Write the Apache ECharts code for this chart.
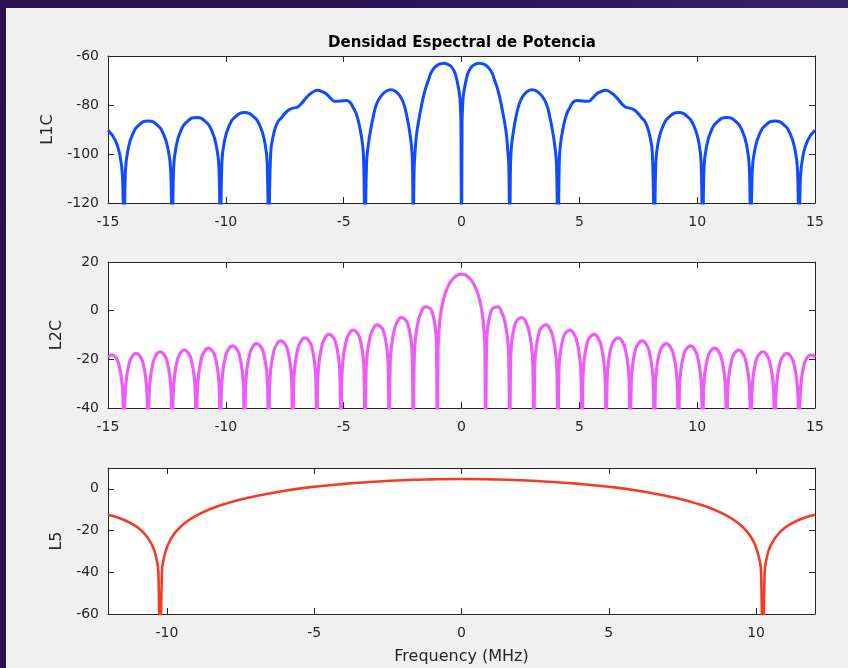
<!DOCTYPE html>
<html><head><meta charset="utf-8">
<script src="https://cdn.jsdelivr.net/npm/echarts@6/dist/echarts.min.js"></script>
<style>
html,body{margin:0;padding:0;width:848px;height:668px;overflow:hidden;}
body{background:linear-gradient(100deg,#2c0f4e 0%,#2b1658 55%,#372a6e 100%);position:relative;}
#panel{position:absolute;left:6px;top:8px;width:842px;height:660px;background:#f0f0f0;}
#chart{position:absolute;left:0;top:0;width:848px;height:668px;}
</style></head><body><div id="panel"></div><div id="chart"></div>
<script>
// ---- data ----
const titleText = 'Densidad Espectral de Potencia';
const yNames = ['L1C', 'L2C', 'L5'];
const xName = 'Frequency (MHz)';
const xTicks12 = [-15, -10, -5, 0, 5, 10, 15];
const xTicks3 = [-10, -5, 0, 5, 10];
const yTicks1 = [-120, -100, -80, -60];
const yTicks2 = [-40, -20, 0, 20];
const yTicks3 = [-60, -40, -20, 0];

const l1cData = [
  [-15,-90.4],[-14.69,-94.4],[-14.486,-101],[-14.383,-109.5],[-14.322,-140],
  [-14.261,-107],[-14.158,-98.6],[-13.954,-91.9],[-13.667,-88],[-13.299,-86.5],[-12.931,-88],[-12.644,-91.9],[-12.44,-98.6],[-12.337,-107],[-12.276,-140],
  [-12.215,-105.6],[-12.112,-97.2],[-11.908,-90.5],[-11.621,-86.6],[-11.253,-85.1],[-10.885,-86.6],[-10.598,-90.5],[-10.394,-97.2],[-10.291,-105.6],[-10.23,-140],
  [-10.169,-103.6],[-10.066,-95.2],[-9.862,-88.5],[-9.575,-84.6],[-9.207,-83.1],[-8.839,-84.6],[-8.552,-88.5],[-8.348,-95.2],[-8.245,-103.6],[-8.184,-140],
  [-8.1,-100],[-7.95,-91],[-7.8,-87],[-7.64,-85.2],[-7.45,-83],[-7.29,-81.8],[-7.1,-81.2],[-6.95,-80.8],[-6.8,-79.5],[-6.6,-77.2],[-6.35,-75],[-6.1,-74],[-5.9,-74.6],[-5.73,-75.5],[-5.55,-77.3],[-5.38,-78.5],[-5.15,-78.4],[-4.9,-78.2],[-4.74,-78.8],[-4.6,-81],[-4.46,-83.8],[-4.32,-89],[-4.2,-96],[-4.15,-103],[-4.092,-140],
  [-4.03,-104],[-3.95,-96],[-3.87,-91],[-3.75,-85],[-3.6,-79.5],[-3.4,-76.2],[-3.2,-74.4],[-3.0,-73.8],[-2.8,-74.4],[-2.6,-76.5],[-2.45,-79.5],[-2.3,-85.5],[-2.2,-91],[-2.12,-97],[-2.08,-104],[-2.046,-140],
  [-2.01,-106],[-1.96,-98],[-1.9,-91.5],[-1.8,-85.5],[-1.7,-80.5],[-1.6,-76],[-1.5,-72.5],[-1.4,-69.8],[-1.3,-67],[-1.15,-64.8],[-1.0,-63.6],[-0.85,-63.1],[-0.75,-63],[-0.6,-63.3],[-0.45,-64.2],[-0.32,-66],[-0.22,-68.8],[-0.14,-72.5],[-0.08,-76],[-0.05,-80],[-0.025,-87],[0,-140],
  [0.025,-87],[0.05,-80],[0.08,-76],[0.14,-72.5],[0.22,-68.8],[0.32,-66],[0.45,-64.2],[0.6,-63.3],[0.75,-63],[0.85,-63.1],[1.0,-63.6],[1.15,-64.8],[1.3,-67],[1.4,-69.8],[1.5,-72.5],[1.6,-76],[1.7,-80.5],[1.8,-85.5],[1.9,-91.5],[1.96,-98],[2.01,-106],[2.046,-140],
  [2.08,-104],[2.12,-97],[2.2,-91],[2.3,-85.5],[2.45,-79.5],[2.6,-76.5],[2.8,-74.4],[3.0,-73.8],[3.2,-74.4],[3.4,-76.2],[3.6,-79.5],[3.75,-85],[3.87,-91],[3.95,-96],[4.03,-104],[4.092,-140],
  [4.15,-103],[4.2,-96],[4.32,-89],[4.46,-83.8],[4.6,-81],[4.74,-78.8],[4.9,-78.2],[5.15,-78.4],[5.38,-78.5],[5.55,-77.3],[5.73,-75.5],[5.9,-74.6],[6.1,-74],[6.35,-75],[6.6,-77.2],[6.8,-79.5],[6.95,-80.8],[7.1,-81.2],[7.29,-81.8],[7.45,-83],[7.64,-85.2],[7.8,-87],[7.95,-91],[8.1,-100],[8.184,-140],
  [8.245,-103.6],[8.348,-95.2],[8.552,-88.5],[8.839,-84.6],[9.207,-83.1],[9.575,-84.6],[9.862,-88.5],[10.066,-95.2],[10.169,-103.6],[10.23,-140],
  [10.291,-105.6],[10.394,-97.2],[10.598,-90.5],[10.885,-86.6],[11.253,-85.1],[11.621,-86.6],[11.908,-90.5],[12.112,-97.2],[12.215,-105.6],[12.276,-140],
  [12.337,-107],[12.44,-98.6],[12.644,-91.9],[12.931,-88],[13.299,-86.5],[13.667,-88],[13.954,-91.9],[14.158,-98.6],[14.261,-107],[14.322,-140],
  [14.383,-109.5],[14.486,-101],[14.69,-94.4],[15,-90.4]
];

const l2cData = [
  [-15,-19.2],[-14.834,-18.17],[-14.629,-19.89],[-14.527,-22.61],[-14.424,-28.13],[-14.363,-35.93],[-14.322,-60],
  [-14.281,-35.88],[-14.22,-28.0],[-14.117,-22.36],[-14.015,-19.52],[-13.811,-17.55],[-13.606,-19.26],[-13.504,-21.97],[-13.401,-27.49],[-13.34,-35.29],[-13.299,-60],
  [-13.258,-35.24],[-13.197,-27.35],[-13.094,-21.71],[-12.992,-18.86],[-12.788,-16.88],[-12.583,-18.58],[-12.481,-21.29],[-12.378,-26.8],[-12.317,-34.6],[-12.276,-60],
  [-12.235,-34.54],[-12.174,-26.65],[-12.071,-21.0],[-11.969,-18.15],[-11.765,-16.16],[-11.56,-17.84],[-11.458,-20.55],[-11.355,-26.05],[-11.294,-33.84],[-11.253,-60],
  [-11.212,-33.78],[-11.151,-25.89],[-11.048,-20.23],[-10.946,-17.37],[-10.742,-15.37],[-10.537,-17.04],[-10.435,-19.74],[-10.332,-25.23],[-10.271,-33.02],[-10.23,-60],
  [-10.189,-32.95],[-10.128,-25.06],[-10.025,-19.39],[-9.923,-16.52],[-9.719,-14.5],[-9.514,-16.15],[-9.412,-18.84],[-9.309,-24.32],[-9.248,-32.11],[-9.207,-60],
  [-9.166,-32.03],[-9.105,-24.13],[-9.002,-18.45],[-8.9,-15.57],[-8.696,-13.53],[-8.491,-15.16],[-8.389,-17.84],[-8.286,-23.31],[-8.225,-31.09],[-8.184,-60],
  [-8.143,-31.0],[-8.082,-23.1],[-7.979,-17.4],[-7.877,-14.51],[-7.673,-12.44],[-7.468,-14.05],[-7.366,-16.71],[-7.263,-22.17],[-7.202,-29.93],[-7.161,-60],
  [-7.12,-29.84],[-7.059,-21.92],[-6.956,-16.21],[-6.854,-13.3],[-6.65,-11.2],[-6.445,-12.77],[-6.343,-15.41],[-6.24,-20.85],[-6.179,-28.6],[-6.138,-60],
  [-6.097,-28.49],[-6.036,-20.56],[-5.933,-14.83],[-5.831,-11.9],[-5.627,-9.75],[-5.422,-11.27],[-5.32,-13.88],[-5.217,-19.29],[-5.156,-27.03],[-5.115,-60],
  [-5.074,-26.89],[-5.013,-18.95],[-4.91,-13.19],[-4.808,-10.23],[-4.604,-8.01],[-4.399,-9.45],[-4.297,-12.03],[-4.194,-17.4],[-4.133,-25.11],[-4.092,-60],
  [-4.051,-24.94],[-3.99,-16.96],[-3.887,-11.16],[-3.785,-8.15],[-3.581,-5.82],[-3.376,-7.15],[-3.274,-9.67],[-3.171,-14.97],[-3.11,-22.64],[-3.069,-60],
  [-3.028,-22.41],[-2.967,-14.39],[-2.864,-8.51],[-2.762,-5.41],[-2.558,-2.9],[-2.353,-4.02],[-2.251,-6.41],[-2.148,-11.59],[-2.087,-19.18],[-2.046,-60],
  [-2.005,-18.83],[-1.944,-10.72],[-1.841,-4.67],[-1.739,-1.39],[-1.535,1.54],[-1.33,0.94],[-1.228,-1.15],[-1.125,-5.97],[-1.064,-13.32],[-1.023,-60],
  [-0.995,-16.0],[-0.97,-10.3],[-0.9,-2.5],[-0.8,3.2],[-0.7,6.81],[-0.6,9.4],[-0.5,11.27],[-0.4,12.7],[-0.3,13.73],[-0.2,14.45],[-0.1,14.86],[0,15],
  [0.1,14.86],[0.2,14.45],[0.3,13.73],[0.4,12.7],[0.5,11.27],[0.6,9.4],[0.7,6.81],[0.8,3.2],[0.9,-2.5],[0.97,-10.3],[0.995,-16.0],
  [1.023,-60],[1.064,-13.32],[1.125,-5.97],[1.228,-1.15],[1.33,0.94],[1.535,1.54],[1.739,-1.39],[1.841,-4.67],[1.944,-10.72],[2.005,-18.83],
  [2.046,-60],[2.087,-19.18],[2.148,-11.59],[2.251,-6.41],[2.353,-4.02],[2.558,-2.9],[2.762,-5.41],[2.864,-8.51],[2.967,-14.39],[3.028,-22.41],
  [3.069,-60],[3.11,-22.64],[3.171,-14.97],[3.274,-9.67],[3.376,-7.15],[3.581,-5.82],[3.785,-8.15],[3.887,-11.16],[3.99,-16.96],[4.051,-24.94],
  [4.092,-60],[4.133,-25.11],[4.194,-17.4],[4.297,-12.03],[4.399,-9.45],[4.604,-8.01],[4.808,-10.23],[4.91,-13.19],[5.013,-18.95],[5.074,-26.89],
  [5.115,-60],[5.156,-27.03],[5.217,-19.29],[5.32,-13.88],[5.422,-11.27],[5.627,-9.75],[5.831,-11.9],[5.933,-14.83],[6.036,-20.56],[6.097,-28.49],
  [6.138,-60],[6.179,-28.6],[6.24,-20.85],[6.343,-15.41],[6.445,-12.77],[6.65,-11.2],[6.854,-13.3],[6.956,-16.21],[7.059,-21.92],[7.12,-29.84],
  [7.161,-60],[7.202,-29.93],[7.263,-22.17],[7.366,-16.71],[7.468,-14.05],[7.673,-12.44],[7.877,-14.51],[7.979,-17.4],[8.082,-23.1],[8.143,-31.0],
  [8.184,-60],[8.225,-31.09],[8.286,-23.31],[8.389,-17.84],[8.491,-15.16],[8.696,-13.53],[8.9,-15.57],[9.002,-18.45],[9.105,-24.13],[9.166,-32.03],
  [9.207,-60],[9.248,-32.11],[9.309,-24.32],[9.412,-18.84],[9.514,-16.15],[9.719,-14.5],[9.923,-16.52],[10.025,-19.39],[10.128,-25.06],[10.189,-32.95],
  [10.23,-60],[10.271,-33.02],[10.332,-25.23],[10.435,-19.74],[10.537,-17.04],[10.742,-15.37],[10.946,-17.37],[11.048,-20.23],[11.151,-25.89],[11.212,-33.78],
  [11.253,-60],[11.294,-33.84],[11.355,-26.05],[11.458,-20.55],[11.56,-17.84],[11.765,-16.16],[11.969,-18.15],[12.071,-21.0],[12.174,-26.65],[12.235,-34.54],
  [12.276,-60],[12.317,-34.6],[12.378,-26.8],[12.481,-21.29],[12.583,-18.58],[12.788,-16.88],[12.992,-18.86],[13.094,-21.71],[13.197,-27.35],[13.258,-35.24],
  [13.299,-60],[13.34,-35.29],[13.401,-27.49],[13.504,-21.97],[13.606,-19.26],[13.811,-17.55],[14.015,-19.52],[14.117,-22.36],[14.22,-28.0],[14.281,-35.88],
  [14.322,-60],[14.363,-35.93],[14.424,-28.13],[14.527,-22.61],[14.629,-19.89],[14.834,-18.17],[15,-19.2]
];

const l5Data = [
  [-12,-12.4],[-11.6,-14.1],[-11.2,-16.7],[-10.8,-20.9],[-10.5,-27.1],[-10.36,-33.3],[-10.29,-40],[-10.23,-100],
  [-10.17,-39.9],[-10.1,-33.1],[-10.0,-28.1],[-9.9,-24.9],[-9.7,-20.6],[-9.4,-16.5],[-9.0,-12.8],[-8.5,-9.5],[-8.0,-7.1],[-7.5,-5.1],[-7.0,-3.5],[-6.0,-0.9],[-5.0,1.0],[-4.0,2.4],[-3.0,3.4],[-2.0,4.15],[-1.0,4.55],[0,4.7],
  [1.0,4.55],[2.0,4.15],[3.0,3.4],[4.0,2.4],[5.0,1.0],[6.0,-0.9],[7.0,-3.5],[7.5,-5.1],[8.0,-7.1],[8.5,-9.5],[9.0,-12.8],[9.4,-16.5],[9.7,-20.6],[9.9,-24.9],[10.0,-28.1],[10.1,-33.1],[10.17,-39.9],
  [10.23,-100],[10.29,-40],[10.36,-33.3],[10.5,-27.1],[10.8,-20.9],[11.2,-16.7],[11.6,-14.1],[12,-12.4]
];

// ---- styling ----
const FONT = 'DejaVu Sans';
const TXT = '#262626';
const AX = '#262626';
const grids = [
  {left:108, top:56, width:707, height:147},
  {left:108, top:262, width:707, height:146},
  {left:108, top:468, width:707, height:146}
];
const xr = [[-15,15],[-15,15],[-12,12]];
const yr = [[-120,-60],[-40,20],[-60,10]];
const xt = [xTicks12, xTicks12, xTicks3];
const yt = [yTicks1, yTicks2, yTicks3];
const nameGaps = [48, 39, 41];
const colors = ['#0f4bff', '#ee5cf8', '#f23c25'];
const widths = [3, 3.2, 2.6];
const datas = [l1cData, l2cData, l5Data];

const xAxis = [], yAxis = [], series = [];
for (let i = 0; i < 3; i++) {
  const lineCfg = {show:true, onZero:false, lineStyle:{color:AX, width:1}};
  const tickCfg = {show:true, inside:true, length:6, lineStyle:{color:AX, width:1}, customValues: xt[i]};
  xAxis.push({
    type:'value', gridIndex:i, min:xr[i][0], max:xr[i][1], position:'bottom',
    axisLine:lineCfg, axisTick:tickCfg, splitLine:{show:false},
    axisLabel:{show:true, customValues:xt[i], color:TXT, fontFamily:FONT, fontSize:14, margin:12},
    name: i === 2 ? xName : '', nameLocation:'middle', nameGap:35,
    nameTextStyle:{color:TXT, fontFamily:FONT, fontSize:16}
  });
  xAxis.push({
    type:'value', gridIndex:i, min:xr[i][0], max:xr[i][1], position:'top',
    axisLine:lineCfg, axisTick:tickCfg, splitLine:{show:false}, axisLabel:{show:false}
  });
  const ytickCfg = {show:true, inside:true, length:6, lineStyle:{color:AX, width:1}, customValues: yt[i]};
  yAxis.push({
    type:'value', gridIndex:i, min:yr[i][0], max:yr[i][1], position:'left',
    axisLine:lineCfg, axisTick:ytickCfg, splitLine:{show:false},
    axisLabel:{show:true, customValues:yt[i], color:TXT, fontFamily:FONT, fontSize:14, margin:9},
    name: yNames[i], nameLocation:'middle', nameGap:nameGaps[i], nameRotate:90,
    nameTextStyle:{color:TXT, fontFamily:FONT, fontSize:16}
  });
  yAxis.push({
    type:'value', gridIndex:i, min:yr[i][0], max:yr[i][1], position:'right',
    axisLine:lineCfg, axisTick:ytickCfg, splitLine:{show:false}, axisLabel:{show:false}
  });
  series.push({
    type:'line', xAxisIndex:i*2, yAxisIndex:i*2, data:datas[i],
    showSymbol:false, symbol:'none', smooth:0.5, clip:true,
    lineStyle:{color:colors[i], width:widths[i]}, z:3
  });
}
grids.forEach(g => { g.show = true; g.backgroundColor = '#ffffff'; g.borderWidth = 0; });

const chart = echarts.init(document.getElementById('chart'), null, {renderer:'canvas'});
chart.setOption({
  backgroundColor:'transparent',
  animation:false,
  title:{text:titleText, left:457, top:31, textAlign:'center',
    textStyle:{color:'#000', fontFamily:FONT, fontWeight:'bold', fontSize:15}},
  grid:grids, xAxis:xAxis, yAxis:yAxis, series:series
});
</script></body></html>
